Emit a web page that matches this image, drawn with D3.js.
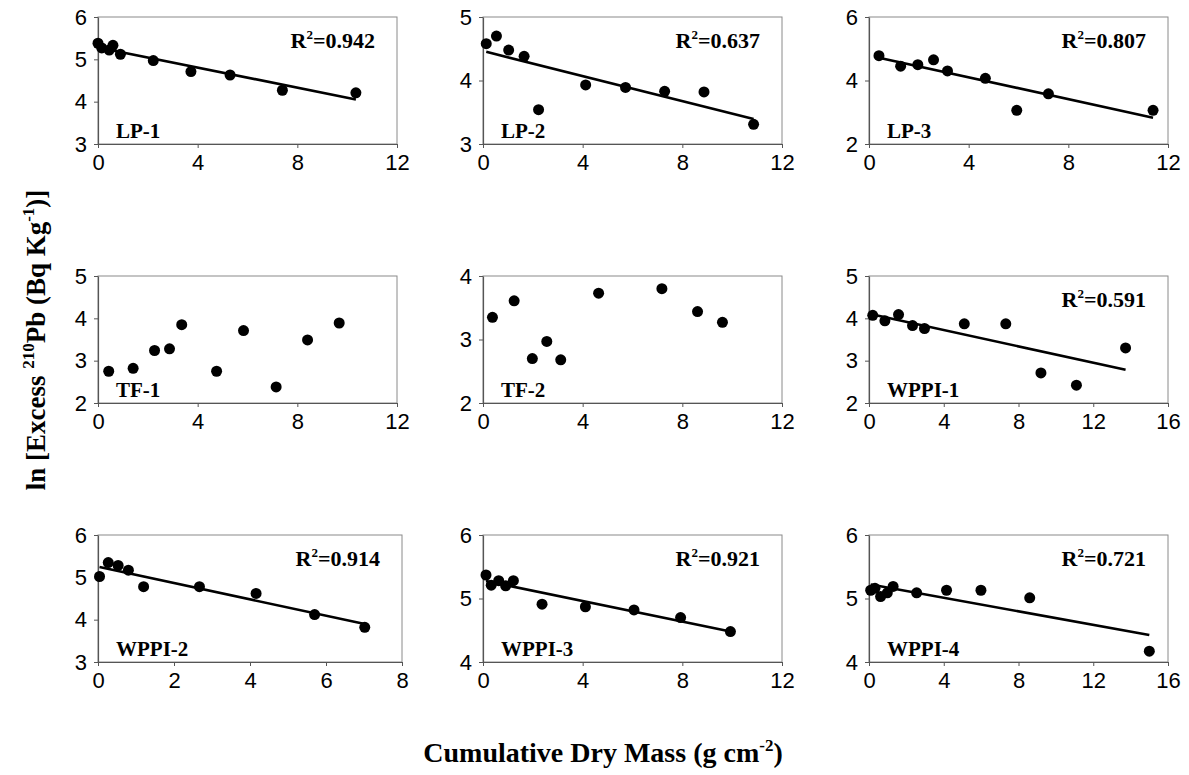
<!DOCTYPE html>
<html>
<head>
<meta charset="utf-8">
<script src="https://cdn.jsdelivr.net/npm/d3@7"></script>
<style>
  html, body { margin: 0; padding: 0; background: #fff; }
  svg { display: block; }
</style>
</head>
<body>
<svg id="chart" width="1189" height="775"></svg>
<script>
// ---------------- DATA ----------------
const panelNames = ["LP-1", "LP-2", "LP-3", "TF-1", "TF-2", "WPPI-1", "WPPI-2", "WPPI-3", "WPPI-4"];
const r2Labels   = ["0.942", "0.637", "0.807", null, null, "0.591", "0.914", "0.921", "0.721"];

const xTickSets = [
  [0, 4, 8, 12], [0, 4, 8, 12], [0, 4, 8, 12],
  [0, 4, 8, 12], [0, 4, 8, 12], [0, 4, 8, 12, 16],
  [0, 2, 4, 6, 8], [0, 4, 8, 12], [0, 4, 8, 12, 16]
];
const yTickSets = [
  [3, 4, 5, 6], [3, 4, 5], [2, 4, 6],
  [2, 3, 4, 5], [2, 3, 4], [2, 3, 4, 5],
  [3, 4, 5, 6], [4, 5, 6], [4, 5, 6]
];

// cumulative dry mass (g cm-2) and ln excess 210Pb
const lp1Mass = [0.0, 0.15, 0.45, 0.6, 0.9, 2.22, 3.73, 5.3, 7.4, 10.35];
const lp1Pb   = [5.38, 5.27, 5.22, 5.33, 5.12, 4.97, 4.71, 4.63, 4.27, 4.21];

const lp2Mass = [0.13, 0.54, 1.03, 1.65, 2.23, 4.12, 5.72, 7.29, 8.87, 10.86];
const lp2Pb   = [4.58, 4.70, 4.48, 4.38, 3.54, 3.93, 3.89, 3.83, 3.82, 3.31];

const lp3Mass = [0.4, 1.27, 1.96, 2.59, 3.15, 4.67, 5.93, 7.2, 11.4];
const lp3Pb   = [4.78, 4.45, 4.50, 4.65, 4.30, 4.07, 3.06, 3.58, 3.06];

const tf1Mass = [0.43, 1.41, 2.27, 2.87, 3.36, 4.76, 5.84, 7.15, 8.41, 9.68];
const tf1Pb   = [2.75, 2.82, 3.24, 3.28, 3.85, 2.75, 3.71, 2.38, 3.49, 3.89];

const tf2Mass = [0.38, 1.25, 1.98, 2.56, 3.12, 4.64, 7.18, 8.61, 9.61];
const tf2Pb   = [3.35, 3.61, 2.70, 2.97, 2.68, 3.73, 3.80, 3.44, 3.27];

const wppi1Mass = [0.2, 0.85, 1.58, 2.33, 2.97, 5.1, 7.32, 9.2, 11.1, 13.73];
const wppi1Pb   = [4.07, 3.94, 4.09, 3.83, 3.76, 3.87, 3.87, 2.71, 2.42, 3.30];

const wppi2Mass = [0.04, 0.27, 0.53, 0.80, 1.20, 2.67, 4.16, 5.70, 7.02];
const wppi2Pb   = [5.02, 5.35, 5.28, 5.17, 4.78, 4.78, 4.62, 4.12, 3.82];

const wppi3Mass = [0.12, 0.33, 0.63, 0.91, 1.22, 2.37, 4.11, 6.06, 7.93, 9.93];
const wppi3Pb   = [5.37, 5.21, 5.28, 5.20, 5.28, 4.91, 4.87, 4.82, 4.70, 4.48];

const wppi4Mass = [0.09, 0.32, 0.62, 0.98, 1.29, 2.55, 4.15, 5.99, 8.6, 15.0];
const wppi4Pb   = [5.13, 5.16, 5.03, 5.09, 5.19, 5.09, 5.13, 5.13, 5.01, 4.17];

const massSeries = [lp1Mass, lp2Mass, lp3Mass, tf1Mass, tf2Mass, wppi1Mass, wppi2Mass, wppi3Mass, wppi4Mass];
const pbSeries   = [lp1Pb, lp2Pb, lp3Pb, tf1Pb, tf2Pb, wppi1Pb, wppi2Pb, wppi3Pb, wppi4Pb];

// ---------------- LAYOUT ----------------
const colLeft = [98, 483, 869];
const rowTop = [17, 276, 535];
const plotW = 299, plotH = 127;

const svg = d3.select("#chart");
const serif = "'Liberation Serif', 'Times New Roman', serif";
const sans = "'Liberation Sans', Arial, sans-serif";

function linReg(xs, ys) {
  const n = xs.length;
  const mx = d3.mean(xs), my = d3.mean(ys);
  let sxy = 0, sxx = 0;
  for (let i = 0; i < n; i++) { sxy += (xs[i] - mx) * (ys[i] - my); sxx += (xs[i] - mx) ** 2; }
  const b = sxy / sxx;
  return { b, a: my - b * mx };
}

panelNames.forEach((name, i) => {
  const r = Math.floor(i / 3), c = i % 3;
  const left = colLeft[c], top = rowTop[r];
  const w = (i === 6) ? 304 : plotW;
  const xt = xTickSets[i], yt = yTickSets[i];
  const x = d3.scaleLinear().domain([xt[0], xt[xt.length - 1]]).range([0, w]);
  const y = d3.scaleLinear().domain([yt[0], yt[yt.length - 1]]).range([plotH, 0]);

  const g = svg.append("g").attr("transform", `translate(${left},${top})`);

  // frame
  g.append("rect").attr("x", 0).attr("y", 0).attr("width", w).attr("height", plotH)
    .attr("fill", "none").attr("stroke", "#8a8a8a").attr("stroke-width", 1);

  // axes
  const xAxis = g.append("g").attr("transform", `translate(0,${plotH})`)
    .call(d3.axisBottom(x).tickValues(xt).tickFormat(d3.format("d")).tickSize(4).tickSizeOuter(0).tickPadding(6));
  const yAxis = g.append("g")
    .call(d3.axisLeft(y).tickValues(yt).tickFormat(d3.format("d")).tickSize(4).tickSizeOuter(0).tickPadding(7));
  [xAxis, yAxis].forEach(ax => {
    ax.select(".domain").attr("stroke", "#555").attr("stroke-width", 1.2);
    ax.selectAll(".tick line").attr("stroke", "#555");
    ax.selectAll(".tick text").attr("fill", "#000").attr("font-family", sans).attr("font-size", 22);
  });

  // trend line
  const xs = massSeries[i], ys = pbSeries[i];
  if (r2Labels[i]) {
    const { a, b } = linReg(xs, ys);
    const x0 = d3.min(xs), x1 = d3.max(xs);
    g.append("line")
      .attr("x1", x(x0)).attr("y1", y(a + b * x0))
      .attr("x2", x(x1)).attr("y2", y(a + b * x1))
      .attr("stroke", "#000").attr("stroke-width", 2.6);
  }

  // points
  g.selectAll("circle.pt").data(xs.map((v, k) => [v, ys[k]])).enter()
    .append("circle").attr("class", "pt")
    .attr("cx", d => x(d[0])).attr("cy", d => y(d[1])).attr("r", 5.5)
    .attr("fill", "#000");

  // panel label
  g.append("text").attr("x", 18).attr("y", plotH - 6)
    .attr("font-family", serif).attr("font-weight", "bold").attr("font-size", 21)
    .text(name);

  // R2 label
  if (r2Labels[i]) {
    const t = g.append("text").attr("x", w - 22).attr("y", 31).attr("text-anchor", "end")
      .attr("font-family", serif).attr("font-weight", "bold").attr("font-size", 22);
    t.append("tspan").text("R");
    t.append("tspan").attr("dy", -9).attr("font-size", 13).text("2");
    t.append("tspan").attr("dy", 9).text("=" + r2Labels[i]);
  }
});

// axis titles
const yt = svg.append("text")
  .attr("transform", "translate(45,340) rotate(-90)")
  .attr("text-anchor", "middle")
  .attr("font-family", serif).attr("font-weight", "bold").attr("font-size", 27);
yt.append("tspan").text("ln [Excess ");
yt.append("tspan").attr("dy", -11).attr("font-size", 17).text("210");
yt.append("tspan").attr("dy", 11).text("Pb (Bq Kg");
yt.append("tspan").attr("dy", -11).attr("font-size", 17).text("-1");
yt.append("tspan").attr("dy", 11).text(")]");

const xtitle = svg.append("text")
  .attr("x", 603).attr("y", 762).attr("text-anchor", "middle")
  .attr("font-family", serif).attr("font-weight", "bold").attr("font-size", 28);
xtitle.append("tspan").text("Cumulative Dry Mass (g cm");
xtitle.append("tspan").attr("dy", -11).attr("font-size", 17).text("-2");
xtitle.append("tspan").attr("dy", 11).text(")");
</script>
</body>
</html>
